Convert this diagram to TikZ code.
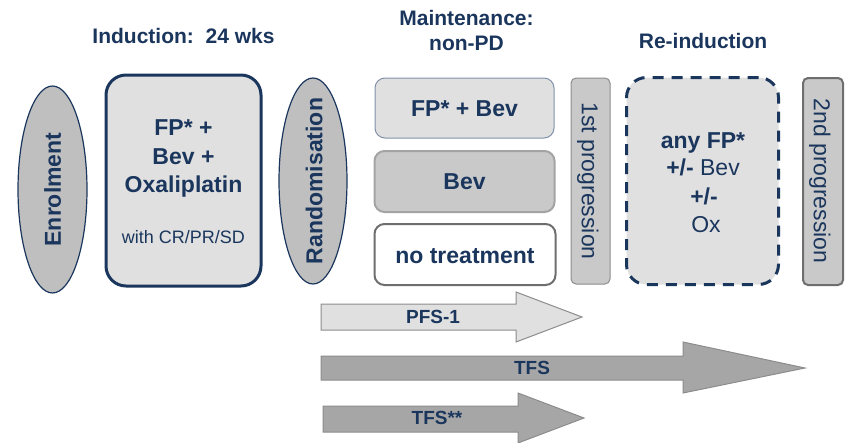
\documentclass[tikz,border=0pt]{standalone}
\usepackage{fontspec}
\setmainfont{Liberation Sans}
\usetikzlibrary{shapes.geometric}
\definecolor{navy}{RGB}{27,54,93}
\definecolor{fillLight}{RGB}{224,224,224}
\definecolor{fillMid}{RGB}{201,201,201}
\definecolor{fillOval}{RGB}{191,191,191}
\definecolor{fillDark}{RGB}{166,166,166}
\definecolor{edgeGrey}{RGB}{140,140,140}
\definecolor{edgeDark}{RGB}{110,110,110}
\definecolor{edgeBlue}{RGB}{130,145,170}
\tikzset{
  txt/.style={text=navy, inner sep=0pt, text depth=0pt},
  big/.style={txt, text height=16.5pt, font=\fontsize{23}{28}\selectfont\bfseries},
  bigreg/.style={txt, text height=16.5pt, font=\fontsize{23}{28}\selectfont},
  head/.style={txt, text height=15pt, font=\fontsize{21}{25}\selectfont\bfseries},
  small/.style={txt, text height=12.9pt, font=\fontsize{18}{22}\selectfont},
  arrowlabel/.style={txt, text height=13.6pt, font=\fontsize{19}{22}\selectfont\bfseries},
  oval/.style={ellipse, draw=navy, line width=1.2pt, fill=fillOval, inner sep=0pt},
  box/.style={rectangle, inner sep=0pt},
  bigarrow/.style={line width=1pt, line join=miter}
}
\begin{document}
\begin{tikzpicture}[x=1pt,y=-1pt]
\useasboundingbox (0,0) rectangle (848,442);

% phase headings
\node[head] (hInd) at (183.5,35.5) {Induction:\ \ 24 wks};
\node[head] (hMain1) at (466.5,17.5) {Maintenance:};
\node[head] (hMain2) at (466.5,42.5) {non-PD};
\node[head] (hRe) at (703,41) {Re-induction};

% enrolment and randomisation ovals
\node[oval, minimum width=69pt, minimum height=207pt] (enrol) at (52.5,189.5) {};
\node[big, rotate=90] (enrolT) at (enrol.center) {Enrolment};
\node[oval, minimum width=68pt, minimum height=206pt] (rand) at (313,181) {};
\node[big, rotate=90] (randT) at (314,181) {Randomisation};

% induction block
\node[box, draw=navy, line width=3pt, fill=fillLight, rounded corners=20pt,
      minimum width=155pt, minimum height=211pt] (induct) at (183.5,180.5) {};
\node[big] (i1) at (183.5,127.5) {FP* +};
\node[big] (i2) at (183.5,156) {Bev +};
\node[big] (i3) at (183.5,184) {Oxaliplatin};
\node[small] (i4) at (183.5,237.5) {with CR/PR/SD};

% maintenance arms
\node[box, draw=edgeBlue, line width=1pt, fill=fillLight, rounded corners=10pt,
      minimum width=179pt, minimum height=60pt] (armA) at (464.5,108) {};
\node[big] (armAT) at (armA.center) {FP* + Bev};
\node[box, draw=edgeGrey!80, line width=2pt, fill=fillMid, rounded corners=10pt,
      minimum width=180pt, minimum height=61pt] (armB) at (464.5,181.5) {};
\node[big] (armBT) at (armB.center) {Bev};
\node[box, draw=edgeDark, line width=2pt, fill=white, rounded corners=10pt,
      minimum width=181pt, minimum height=61pt] (armC) at (465,254.5) {};
\node[big] (armCT) at (465,255) {no treatment};

% first progression bar
\node[box, draw=edgeGrey, line width=1pt, fill=fillMid, rounded corners=5pt,
      minimum width=39pt, minimum height=206pt] (prog1) at (590.5,181) {};
\node[bigreg, rotate=-90] (prog1T) at (590,181) {1st progression};

% re-induction block
\node[box, draw=navy, line width=3pt, dash pattern=on 11pt off 8pt, fill=fillLight,
      rounded corners=20pt, minimum width=152pt, minimum height=207pt] (reind) at (702.5,181) {};
\node[big] (r1) at (703,140) {any FP*};
\node[bigreg] (r2) at (703,167) {\textbf{+/-} Bev};
\node[big] (r3) at (704,196) {+/-};
\node[bigreg] (r4) at (706,224.5) {Ox};

% second progression bar
\node[box, draw=edgeDark, line width=2pt, fill=fillMid, rounded corners=5pt,
      minimum width=40pt, minimum height=207pt] (prog2) at (823,181.5) {};
\node[bigreg, rotate=-90] (prog2T) at (822,181) {2nd progression};

% survival end-point arrows
\draw[bigarrow, draw=edgeGrey, fill=fillLight]
  (321,304) -- (516,304) -- (516,292) -- (582,317) -- (516,342) -- (516,330) -- (321,330) -- cycle;
\node[arrowlabel] (pfs) at (433,317) {PFS-1};
\draw[bigarrow, draw=edgeGrey, fill=fillDark]
  (321,356) -- (683,356) -- (683,342) -- (805,368) -- (683,393) -- (683,380) -- (321,380) -- cycle;
\node[arrowlabel] (tfs) at (532,368) {TFS};
\draw[bigarrow, draw=edgeGrey, fill=fillDark]
  (323,406) -- (518,406) -- (518,393) -- (584,418) -- (518,443) -- (518,432) -- (323,432) -- cycle;
\node[arrowlabel] (tfs2) at (437,418) {TFS**};
\end{tikzpicture}
\end{document}
